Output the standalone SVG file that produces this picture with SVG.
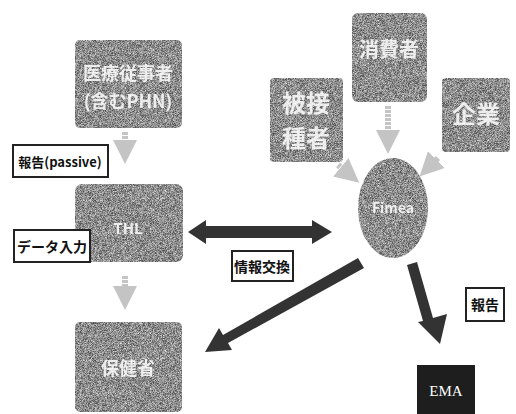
<svg xmlns="http://www.w3.org/2000/svg" width="516" height="414" viewBox="0 0 516 414">
<defs>
<filter id="grain" x="0" y="0" width="100%" height="100%">
<feTurbulence type="fractalNoise" baseFrequency="1.6" numOctaves="1" seed="3" result="n"/>
<feColorMatrix in="n" type="matrix" values="0 0 0 0 0  0 0 0 0 0  0 0 0 0 0  0 0 0 -1.6 1.45" result="m"/>
<feComposite in="SourceGraphic" in2="m" operator="in"/>
</filter>
<marker id="lh" markerWidth="4" markerHeight="4" refX="2" refY="2" orient="auto" markerUnits="strokeWidth">
<path d="M0,0 L4,2 L0,4 Z" fill="#c4c4c4"/>
</marker>
</defs>
<style>
.box{fill:#505050;filter:url(#grain)}
.bt{fill:#ffffff;font-family:"Noto Sans CJK JP","Liberation Sans",sans-serif;font-weight:bold;text-anchor:middle;opacity:0.85}
.lab{fill:#ffffff;stroke:#222;stroke-width:2}
.lt{fill:#111;font-family:"Noto Sans CJK JP","Liberation Sans",sans-serif;font-weight:bold;text-anchor:middle}
.light{stroke:#c4c4c4;stroke-width:6;fill:none;stroke-dasharray:3 1}
.big{fill:#333}
</style>
<rect width="516" height="414" fill="#ffffff"/>
<g id="connectors">
<line class="light" x1="125" y1="132" x2="125" y2="152" marker-end="url(#lh)"/>
<line class="light" x1="125" y1="276" x2="125" y2="298" marker-end="url(#lh)"/>
<line class="light" x1="388" y1="106" x2="388" y2="142" marker-end="url(#lh)"/>
<line class="light" x1="338" y1="165" x2="350" y2="175" marker-end="url(#lh)"/>
<line class="light" x1="438" y1="158" x2="428" y2="168" marker-end="url(#lh)"/>
<path class="big" d="M188,232 L206,220 L206,226 L312,226 L312,220 L332,232 L312,244 L312,238 L206,238 L206,244 Z"/>
<path class="big" d="M358,258 L364,268 L228,343 L232,350 L205,352 L219,328 L223,335 Z"/>
<path class="big" d="M407,265 L417,262 L433,318 L447,314 L440,344 L418,322 L423,321 Z"/>
</g>
<g id="node-iryo">
<rect class="box" x="75" y="40" width="107" height="88" rx="5"/>
<text class="bt" x="128" y="80" font-size="18">医療従事者</text>
<text class="bt" x="128" y="108" font-size="18">(含むPHN)</text>
</g>
<g id="label-passive">
<rect class="lab" x="13" y="145" width="95" height="32"/>
<text class="lt" x="60" y="167" font-size="13">報告(passive)</text>
</g>
<g id="node-thl">
<rect class="box" x="75" y="184" width="108" height="78" rx="7"/>
<text class="bt" x="128" y="234" font-size="15">THL</text>
</g>
<g id="label-data">
<rect class="lab" x="14" y="230" width="76" height="32"/>
<text class="lt" x="52" y="252" font-size="14">データ入力</text>
</g>
<g id="node-hoken">
<rect class="box" x="75" y="322" width="107" height="90" rx="5"/>
<text class="bt" x="128" y="375" font-size="18">保健省</text>
</g>
<g id="label-info">
<rect class="lab" x="232" y="251" width="61" height="30"/>
<text class="lt" x="262" y="272" font-size="14">情報交換</text>
</g>
<g id="node-consumer">
<rect class="box" x="352" y="13" width="75" height="89" rx="6"/>
<text class="bt" x="389" y="57" font-size="20">消費者</text>
</g>
<g id="node-vaccinee">
<rect class="box" x="270" y="78" width="73" height="84" rx="4"/>
<text class="bt" x="306" y="112" font-size="24">被接</text>
<text class="bt" x="306" y="147" font-size="24">種者</text>
</g>
<g id="node-company">
<rect class="box" x="442" y="78" width="68" height="74" rx="4"/>
<text class="bt" x="476" y="123" font-size="24">企業</text>
</g>
<g id="node-fimea">
<ellipse class="box" cx="393" cy="208" rx="35" ry="50"/>
<text class="bt" x="393" y="213" font-size="14">Fimea</text>
</g>
<g id="label-report">
<rect class="lab" x="466" y="288" width="38" height="33"/>
<text class="lt" x="485" y="310" font-size="14">報告</text>
</g>
<g id="node-ema">
<rect x="417" y="365" width="58" height="49" fill="#1e1e1e"/>
<text x="446" y="396" font-size="15" fill="#ffffff" font-family="Liberation Serif,serif" text-anchor="middle">EMA</text>
</g>
</svg>
